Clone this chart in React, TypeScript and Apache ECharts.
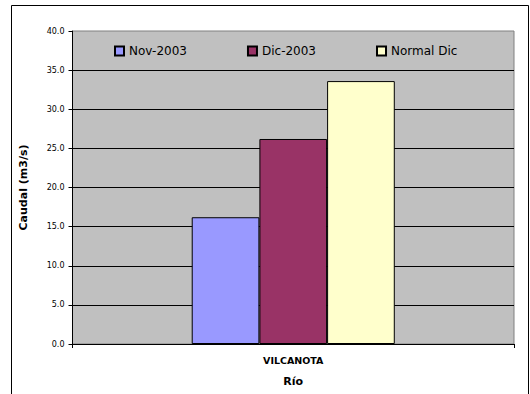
import React, { useEffect, useRef } from "react";
import * as echarts from "echarts";

const categories = ["VILCANOTA"];
const seriesNames = ["Nov-2003", "Dic-2003", "Normal Dic"];
const nov2003 = [16.2];
const dic2003 = [26.2];
const normalDic = [33.6];
const seriesColors = ["#9999FF", "#993366", "#FFFFCC"];
const yTitle = "Caudal (m3/s)";
const xTitle = "Río";

export default function App() {
  const ref = useRef<HTMLDivElement>(null);
  useEffect(() => {
    if (!ref.current) return;
    const chart = echarts.init(ref.current, undefined, { renderer: "svg" });
    const values = [nov2003, dic2003, normalDic];
    const font = "'DejaVu Sans', Arial, sans-serif";
    chart.setOption({
      animation: false,
      backgroundColor: "#ffffff",
      textStyle: { fontFamily: font },
      graphic: [
        {
          type: "rect",
          shape: { x: 11.5, y: 5.5, width: 517, height: 420 },
          style: { fill: "none", stroke: "#000000", lineWidth: 1 },
          silent: true,
          z: 0,
        },
      ],
      grid: {
        left: 72.5,
        top: 31,
        right: 16,
        bottom: 50,
        show: true,
        backgroundColor: "#C0C0C0",
        borderColor: "#808080",
        borderWidth: 1,
      },
      legend: {
        data: seriesNames,
        left: 114,
        top: 45,
        padding: 0,
        itemWidth: 9,
        itemHeight: 9,
        itemGap: 60,
        icon: "rect",
        textStyle: { fontFamily: font, fontSize: 12, color: "#000000" },
      },
      xAxis: {
        type: "category",
        data: categories,
        name: xTitle,
        nameLocation: "middle",
        nameGap: 32,
        nameTextStyle: { fontFamily: font, fontSize: 11, fontWeight: "bold", color: "#000000" },
        axisLine: { show: true, lineStyle: { color: "#000000", width: 1 } },
        axisTick: { show: true, length: 4, lineStyle: { color: "#000000" } },
        axisLabel: { margin: 11, fontFamily: font, fontSize: 9.5, fontWeight: "bold", color: "#000000" },
        splitLine: { show: false },
      },
      yAxis: {
        type: "value",
        min: 0,
        max: 40,
        interval: 5,
        name: yTitle,
        nameLocation: "middle",
        nameGap: 44,
        nameTextStyle: { fontFamily: font, fontSize: 11, fontWeight: "bold", color: "#000000" },
        axisLine: { show: true, lineStyle: { color: "#000000", width: 1 } },
        axisTick: { show: true, length: 4, lineStyle: { color: "#000000" } },
        axisLabel: {
          margin: 8,
          fontFamily: font,
          fontSize: 8,
          color: "#000000",
          formatter: (v: number) => v.toFixed(1),
        },
        splitLine: { show: true, showMinLine: false, showMaxLine: false, lineStyle: { color: "#000000", width: 1 } },
      },
      series: seriesNames.map((name, i) => ({
        name,
        type: "bar",
        data: values[i],
        barGap: "0%",
        barCategoryGap: "54%",
        itemStyle: { color: seriesColors[i], borderColor: "#000000", borderWidth: 1 },
      })),
    });
    return () => chart.dispose();
  }, []);
  return (
    <div
      ref={ref}
      style={{ position: "absolute", left: 0, top: 0, width: 530, height: 394 }}
    />
  );
}
